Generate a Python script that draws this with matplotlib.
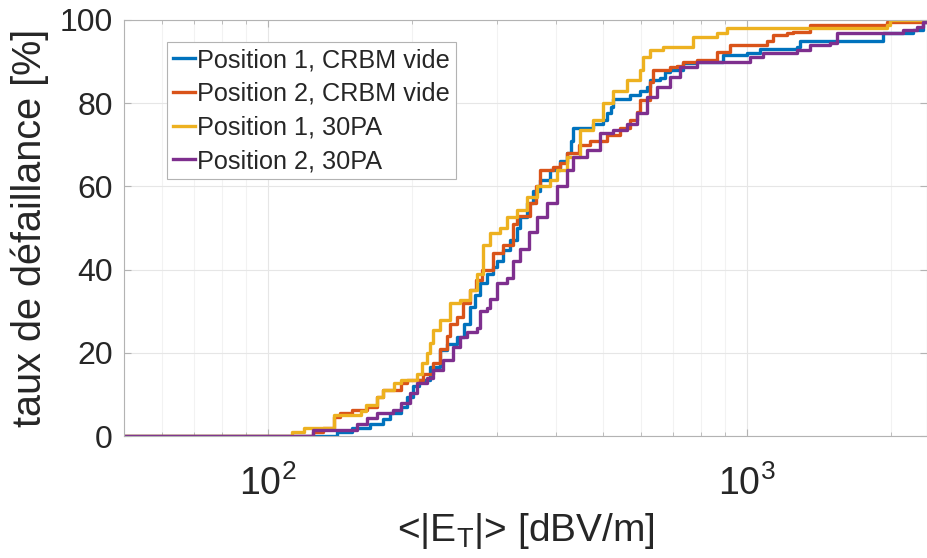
import numpy as np
import matplotlib.pyplot as plt
from matplotlib.ticker import LogLocator, NullFormatter, MultipleLocator
from matplotlib import font_manager

plt.rcParams['font.family'] = ['Liberation Sans', 'DejaVu Sans']
plt.rcParams['mathtext.fontset'] = 'custom'
narrow = [f.name for f in font_manager.fontManager.ttflist if f.name == 'Liberation Sans Narrow']
plt.rcParams['mathtext.rm'] = 'Liberation Sans Narrow' if narrow else 'Liberation Sans'
plt.rcParams['mathtext.it'] = 'Liberation Sans:italic'
plt.rcParams['mathtext.default'] = 'rm'

# empirical failure-rate curves: field level [V/m] where each step starts, failure rate [%]
pos1_vide_x = [50, 139, 150, 163, 174, 180, 189, 195, 201, 207, 218, 229, 236, 248, 256, 264,
               271, 277, 286, 295, 301, 310, 320, 331, 336, 347, 358, 370, 388, 407, 421, 428,
               433, 477, 500, 510, 520, 526, 570, 598, 618, 627, 658, 675, 691, 735, 786, 891,
               1000, 1064, 1272, 1290, 1923, 2222, 2331]
pos1_vide_y = [0, 1, 2, 3, 4, 5.5, 7, 9.4, 12, 13.5, 16.6, 20.7, 22, 23.8, 27, 31,
               34, 36.8, 39, 40.6, 42, 44.7, 47, 50, 52.6, 56, 59, 61.5, 64, 66, 68, 71,
               74, 75, 76, 77.6, 79, 81, 82, 83, 84, 85.6, 86, 87.5, 88, 89.7, 90, 91.6,
               92, 93, 93.5, 95, 96.8, 97.6, 99.5]

pos2_vide_x = [50, 124, 130, 137, 141, 150, 161, 169, 174, 189, 195, 211, 221, 229, 236, 240,
               248, 255, 264, 272, 280, 295, 310, 325, 331, 352, 362, 370, 394, 407, 421, 445,
               470, 510, 543, 570, 590, 598, 627, 637, 690, 714, 735, 786, 866, 922, 1101, 1133,
               1212, 1247, 1354, 1960, 2376]
pos2_vide_y = [0, 1, 2, 4.6, 5.5, 6.2, 7, 9.4, 11, 12.7, 13.5, 15, 17.5, 21, 24, 27,
               28.6, 32, 35, 37.5, 40, 44, 46, 51, 53, 56, 60, 64, 64.7, 65.6, 68, 70,
               71, 72.4, 74, 76, 78, 80.8, 85, 88, 88.7, 89, 90, 90.4, 92.3, 94, 95, 96.4,
               96.9, 97, 98.8, 99.5, 100]

pos1_30pa_x = [50, 112, 119, 137, 156, 160, 169, 174, 183, 189, 205, 210, 215, 218, 221, 229,
               240, 252, 264, 273, 281, 291, 305, 315, 331, 347, 365, 388, 401, 421, 448, 477,
               501, 525, 562, 598, 607, 627, 668, 771, 866, 908, 1960, 1989]
pos1_30pa_y = [0, 1, 2, 5, 6, 7.5, 9.4, 11, 12.7, 13.5, 15, 17.5, 20, 22.4, 25.5, 27.9,
               32, 32.7, 35, 39, 46, 48.8, 50, 52.6, 54.3, 57.5, 60, 61.5, 64, 67, 73.6, 76,
               80, 83, 85.6, 88, 91, 92.8, 93.5, 96, 96.9, 98, 98.8, 100]

pos2_30pa_x = [50, 124, 153, 161, 169, 182, 189, 198, 205, 215, 221, 232, 243, 252, 260, 273,
               277, 287, 291, 300, 315, 325, 336, 350, 364, 382, 401, 421, 433, 463, 493, 525,
               562, 590, 618, 649, 691, 725, 786, 1014, 1080, 1272, 1354, 1491, 1542, 2117, 2265,
               2331, 2376]
pos2_30pa_y = [0, 1.4, 3, 4.3, 5.5, 6.2, 7.9, 10.3, 12.7, 14, 15.8, 18.3, 21.4, 23.8, 25, 26,
               30, 30.8, 33, 36.8, 38, 42, 45, 49, 52.6, 56, 60, 64, 67, 68.8, 72.8, 73.6,
               75, 77.6, 81.5, 84, 86.3, 88.7, 90, 91, 92, 92.8, 94, 94.5, 96.9, 97.6, 98.3,
               99.5, 100]

labels = ['Position 1, CRBM vide', 'Position 2, CRBM vide', 'Position 1, 30PA', 'Position 2, 30PA']
colors = ['#0072BD', '#D95319', '#EDB120', '#7E2F8E']

fig = plt.figure(figsize=(9.27, 5.58), dpi=100)
ax = fig.add_axes([124 / 927, 122 / 558, 803 / 927, 416 / 558])

series = [(pos1_vide_x, pos1_vide_y), (pos2_vide_x, pos2_vide_y),
          (pos1_30pa_x, pos1_30pa_y), (pos2_30pa_x, pos2_30pa_y)]
for (xs, ys), lab, c in zip(series, labels, colors):
    xs = list(xs) + [2400]
    ys = list(ys) + [ys[-1]]
    ax.plot(xs, ys, drawstyle='steps-post', color=c, lw=2.4, label=lab)

ax.set_xscale('log')
ax.set_xlim(50, 2376)
ax.set_ylim(0, 100)
ax.yaxis.set_major_locator(MultipleLocator(20))
ax.xaxis.set_minor_locator(LogLocator(base=10, subs=np.arange(2, 10)))
ax.xaxis.set_minor_formatter(NullFormatter())

ax.grid(True, which='major', color='#e6e6e6', lw=0.8)
ax.grid(True, which='minor', axis='x', color='#f2f2f2', lw=0.8)
ax.set_axisbelow(True)

for s in ax.spines.values():
    s.set_color('#b3b3b3')
    s.set_linewidth(0.8)
ax.tick_params(which='both', direction='in', top=True, right=True, color='#b3b3b3',
               labelsize=23, labelcolor='#262626', pad=8)
ax.tick_params(which='major', length=5)
ax.tick_params(which='minor', length=3)
ax.tick_params(axis='x', which='major', labelsize=27, pad=21)

ax.set_xlabel(r'<|E$_T$|> [dBV/m]', fontsize=28, color='#262626', labelpad=6)
ax.set_ylabel('taux de défaillance [%]', fontsize=28.5, color='#262626', labelpad=8)

leg = ax.legend(loc='upper left', bbox_to_anchor=(43 / 803, 1 - 22 / 416), borderaxespad=0,
                fontsize=18.2, handlelength=0.85, handletextpad=0.1, labelspacing=0.38,
                borderpad=0.25, fancybox=False, framealpha=1, edgecolor='#b3b3b3')
leg.get_frame().set_linewidth(0.8)
for t in leg.get_texts():
    t.set_color('#262626')

plt.savefig('out.png', dpi=100)
plt.close()
